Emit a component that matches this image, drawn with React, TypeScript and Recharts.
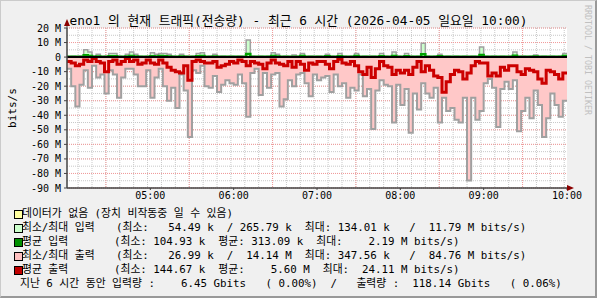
import React from 'react';
import { ComposedChart, Area, Line, XAxis, YAxis, CartesianGrid, ReferenceLine } from 'recharts';

// 3-minute samples from 04:00 to 10:00, values in Mbit/s
const outMax = [
  8, 20, 34, 19, 9, 21, 6, 14, 12, 25, 9, 12, 28, 14, 8, 8, 12, 20, 20, 9,
  28, 14, 8, 20, 30, 21, 35, 12, 23, 55, 9, 11, 6, 20, 21, 13, 24, 19, 16, 18,
  19, 12, 18, 41, 11, 8, 26, 11, 21, 12, 11, 34, 29, 16, 20, 12, 11, 18, 27, 12,
  16, 14, 13, 24, 12, 20, 18, 28, 21, 23, 12, 27, 22, 49.5, 23, 16, 19, 20, 45, 19,
  33, 22, 52, 25, 36, 18, 25, 28, 21, 45, 28, 37, 35, 43, 45, 28, 84.76, 28, 43, 37,
  18, 15, 21, 48, 22, 17, 22, 16, 51, 37, 28, 42, 23, 33, 55, 42, 25, 33, 41, 30,
];

const outAvg = [
  3, 4, 6, 5, 2, 3, 1, 3, 4, 10, 3, 2, 5, 3, 1, 3, 2, 5, 4, 2,
  4, 5, 2, 4, 7, 9, 10, 11, 6, 16, 3, 2, 3, 4, 4, 3, 7, 6, 5, 3,
  4, 2, 3, 6, 3, 4, 5, 8, 4, 2, 4, 5, 6, 3, 7, 3, 5, 9, 4, 5,
  3, 3, 5, 8, 3, 1.5, 4, 5, 3, 6, 10, 12, 7, 14, 8, 3, 6, 7, 12, 9,
  11, 9, 12, 7, 3, 10, 6, 9, 13, 14, 24.11, 17, 12, 9, 10, 15, 11, 6, 3, 4,
  4, 13, 11, 13, 7, 9, 6, 6, 10, 12, 8, 9, 10, 15, 18, 9, 10, 12, 15, 11,
];

const inMax = [
  0.4, 0.5, 0.4, 0.6, 5, 3.5, 0.5, 2, 0.4, 0.5, 2.5, 2.5, 0.5, 0.4, 2, 3.5, 2, 0.5, 0.4, 0.5,
  3, 2, 2.5, 2.5, 2, 0.5, 0.4, 2, 0.5, 0.4, 0.5, 2.5, 3, 0.4, 0.5, 2, 0.4, 0.5, 0.4, 0.5,
  0.4, 0.5, 0.4, 11.79, 0.5, 0.4, 0.5, 0.4, 0.5, 3, 2, 0.4, 0.5, 0.4, 1.5, 0.5, 2.5, 0.4, 0.5, 0.4,
  0.5, 0.4, 2, 0.5, 0.4, 2.5, 0.5, 0.4, 0.5, 2.5, 0.4, 0.5, 0.4, 0.5, 0.4, 2.5, 0.5, 0.4, 3.5, 0.5,
  0.4, 2.5, 0.5, 0.4, 0.5, 9.5, 0.5, 0.4, 0.5, 2, 0.4, 0.5, 0.4, 0.5, 0.4, 0.5, 0.4, 0.5, 0.4, 7,
  0.5, 0.4, 0.5, 0.4, 0.5, 0.4, 0.5, 3.5, 0.4, 0.5, 0.4, 0.5, 1.5, 0.4, 0.5, 0.4, 0.5, 0.4, 0.5, 2.5,
];

const inAvg = [
  0.2, 0.3, 0.2, 0.3, 1.2, 0.8, 0.2, 0.4, 0.2, 0.3, 0.5, 0.6, 0.2, 0.2, 0.4, 0.8, 0.4, 0.2, 0.2, 0.3,
  0.6, 0.4, 0.7, 0.6, 0.4, 0.2, 0.2, 0.4, 0.2, 0.2, 0.3, 0.5, 0.7, 0.2, 0.3, 0.4, 0.2, 0.3, 0.2, 0.3,
  0.2, 0.3, 0.2, 2.19, 0.3, 0.2, 0.3, 0.2, 0.3, 0.8, 0.4, 0.2, 0.3, 0.2, 0.3, 0.2, 0.7, 0.2, 0.3, 0.2,
  0.3, 0.2, 0.5, 0.3, 0.2, 0.5, 0.3, 0.2, 0.3, 0.7, 0.2, 0.3, 0.2, 0.3, 0.2, 0.6, 0.3, 0.2, 0.8, 0.3,
  0.2, 0.6, 0.3, 0.2, 0.3, 1.9, 0.3, 0.2, 0.3, 0.5, 0.2, 0.3, 0.2, 0.3, 0.2, 0.3, 0.2, 0.3, 0.2, 1.5,
  0.3, 0.2, 0.3, 0.2, 0.3, 0.2, 0.3, 0.9, 0.2, 0.3, 0.2, 0.3, 0.4, 0.2, 0.3, 0.2, 0.3, 0.2, 0.3, 0.7,
];

const hourTicks = [60, 120, 180, 240, 300, 360];
const hourLabels = ['05:00', '06:00', '07:00', '08:00', '09:00', '10:00'];
const yTicks = [20, 10, 0, -10, -20, -30, -40, -50, -60, -70, -80, -90];

const legendColors = ['#ffffa0', '#ccffcc', '#009000', '#ffc0c0', '#c00000'];
const legendLabels = ['데이터가 없음 (장치 비작동중 일 수 있음)', '최소/최대 입력', '평균 입력', '최소/최대 출력', '평균 출력'];
const legendStats = [
  '',
  '(최소:   54.49 k  / 265.79 k  최대: 134.01 k   /  11.79 M bits/s)',
  '(최소: 104.93 k  평균: 313.09 k  최대:    2.19 M bits/s)',
  '(최소:   26.99 k  /  14.14 M  최대: 347.56 k   /  84.76 M bits/s)',
  '(최소: 144.67 k  평균:    5.60 M  최대:  24.11 M bits/s)',
];
const totalsLine = '지난 6 시간 동안 입력량 :    6.45 Gbits   ( 0.00%)  /   출력량 :  118.14 Gbits   ( 0.06%)';

const STEP = 3;
const rows = outMax.map((v, i) => ({
  t: i * STEP,
  outMax: -v,
  outAvg: -outAvg[i],
  inMax: inMax[i],
  inAvg: inAvg[i],
}));
// close the last step at the right edge
rows.push({ ...rows[rows.length - 1], t: 360 });

const minorV: number[] = [];
const majorV: number[] = [];
for (let m = 8; m < 360; m += 10) {
  minorV.push(m);
  if ((m - 28) % 60 === 0) majorV.push(m);
}
const minorH: number[] = [];
const majorH: number[] = [];
for (let v = -90; v <= 20; v += 5) {
  minorH.push(v);
  if (v % 10 === 0) majorH.push(v);
}

const MONO = "'DejaVu Sans Mono', 'Noto Sans CJK KR', monospace";
const LEGEND_FS = 10.8;

export default function App() {
  return (
    <div
      style={{
        position: 'fixed',
        left: 0,
        top: 0,
        width: 597,
        height: 298,
        background: '#f0f0f0',
        boxSizing: 'border-box',
        borderTop: '1px solid #cbcbcb',
        borderLeft: '1px solid #cbcbcb',
        borderRight: '2px solid #999',
        borderBottom: '2px solid #999',
        fontFamily: MONO,
        color: '#000',
      }}
    >
      <div style={{ position: 'absolute', left: -1, top: -1 }}>
        <ComposedChart
          width={597}
          height={298}
          data={rows}
          margin={{ top: 28, right: 30, bottom: 96, left: 0 }}
        >
          <CartesianGrid
            fill="#fff"
            stroke="#c8c8c8"
            strokeDasharray="1 1"
            horizontalValues={minorH}
            verticalValues={minorV}
          />
          <CartesianGrid
            stroke="#f29a9a"
            strokeDasharray="1 1"
            horizontalValues={majorH}
            verticalValues={majorV}
          />
          <XAxis
            dataKey="t"
            type="number"
            domain={[0, 360]}
            ticks={hourTicks}
            tickFormatter={(v) => hourLabels[hourTicks.indexOf(v)]}
            height={14}
            tickSize={2}
            tickMargin={2}
            stroke="#444"
            tick={{ fontSize: 10, fontFamily: MONO, fill: '#000' }}
          />
          <YAxis
            type="number"
            domain={[-90, 20]}
            ticks={yTicks}
            interval={0}
            width={67}
            tickSize={3}
            tickMargin={3}
            stroke="#444"
            tickFormatter={(v) => (v === 0 ? '0' : `${v} M`)}
            tick={{ fontSize: 10, fontFamily: MONO, fill: '#000' }}
          />
          <Area
            type="stepAfter"
            dataKey="outMax"
            baseValue={0}
            stroke="#a0a0a0"
            strokeWidth={2}
            fill="#ffc8c8"
            fillOpacity={1}
            dot={false}
            activeDot={false}
            isAnimationActive={false}
          />
          <Line
            type="stepAfter"
            dataKey="outAvg"
            stroke="#cc0000"
            strokeWidth={3}
            dot={false}
            activeDot={false}
            isAnimationActive={false}
          />
          <Area
            type="stepAfter"
            dataKey="inMax"
            baseValue={0}
            stroke="#a0a0a0"
            strokeWidth={1.5}
            fill="#ccffcc"
            fillOpacity={1}
            dot={false}
            activeDot={false}
            isAnimationActive={false}
          />
          <Line
            type="stepAfter"
            dataKey="inAvg"
            stroke="#00a000"
            strokeWidth={2.5}
            dot={false}
            activeDot={false}
            isAnimationActive={false}
          />
          <ReferenceLine y={0} stroke="#000" strokeWidth={2} />
        </ComposedChart>
      </div>

      <svg
        width={597}
        height={298}
        style={{ position: 'absolute', left: -1, top: -1, pointerEvents: 'none' }}
      >
        <line x1={67} y1={188} x2={67} y2={22} stroke="#444" />
        <line x1={67} y1={188} x2={570} y2={188} stroke="#444" />
        <polygon points="64,26 70,26 67,19" fill="#8b0000" />
        <polygon points="567,185 567,191 574,188" fill="#8b0000" />
      </svg>

      <div
        style={{
          position: 'absolute',
          left: -1,
          top: 9,
          width: 597,
          textAlign: 'center',
          fontSize: 12.8,
          whiteSpace: 'pre',
        }}
      >
        eno1 의 현재 트래픽(전송량) - 최근 6 시간 (2026-04-05 일요일 10:00)
      </div>

      <div
        style={{
          position: 'absolute',
          left: 3,
          top: 107,
          fontSize: 11,
          transform: 'translate(-50%, -50%) rotate(-90deg)',
          transformOrigin: 'center',
          marginLeft: 8,
        }}
      >
        bits/s
      </div>

      <div
        style={{
          position: 'absolute',
          left: 582,
          top: 4,
          fontSize: 8.3,
          color: '#c0c0c0',
          writingMode: 'vertical-rl',
          whiteSpace: 'pre',
        }}
      >
        RRDTOOL / TOBI OETIKER
      </div>

      {legendLabels.map((label, i) => (
        <div key={label} style={{ position: 'absolute', left: 0, top: 206 + i * 14, height: 14 }}>
          <div
            style={{
              position: 'absolute',
              left: 13,
              top: 3,
              width: 7,
              height: 7,
              background: legendColors[i],
              border: '1px solid #000',
            }}
          />
          <div
            style={{ position: 'absolute', left: 21, top: 0, fontSize: LEGEND_FS, whiteSpace: 'pre', lineHeight: '14px' }}
          >
            {label}
          </div>
          {legendStats[i] && (
            <div
              style={{
                position: 'absolute',
                left: i % 2 === 1 ? 115 : 113,
                top: 0,
                fontSize: LEGEND_FS,
                whiteSpace: 'pre',
                lineHeight: '14px',
              }}
            >
              {legendStats[i]}
            </div>
          )}
        </div>
      ))}
      <div
        style={{
          position: 'absolute',
          left: 19,
          top: 276,
          fontSize: LEGEND_FS,
          whiteSpace: 'pre',
          lineHeight: '14px',
        }}
      >
        {totalsLine}
      </div>
    </div>
  );
}
